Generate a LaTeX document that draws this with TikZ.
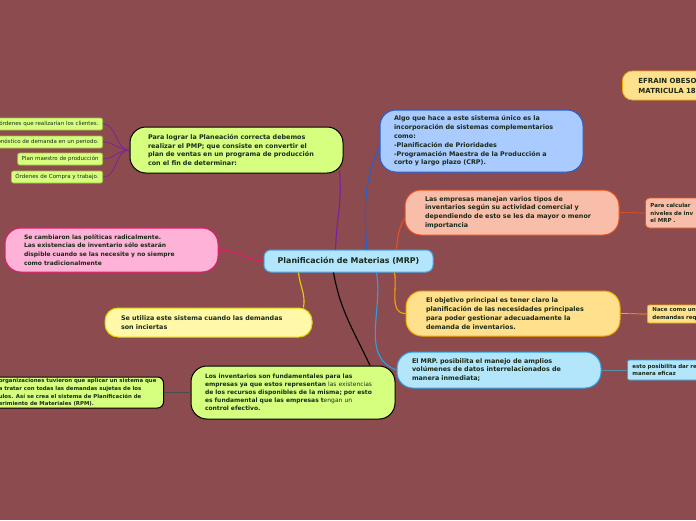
\documentclass[tikz,border=0pt]{standalone}
\usepackage{fontspec}
\setmainfont{DejaVu Sans}
\usetikzlibrary{positioning}
\definecolor{bg}{HTML}{8C4B4F}
\definecolor{ink}{HTML}{1A2A1A}
\definecolor{limefill}{HTML}{D6FF80}
\definecolor{limeline}{HTML}{9CC33A}
\definecolor{rootfill}{HTML}{B3E5FC}
\definecolor{rootline}{HTML}{4FA8E8}
\definecolor{bluefill}{HTML}{A9CBFF}
\definecolor{blueline}{HTML}{2160D6}
\definecolor{salmfill}{HTML}{F9BEA9}
\definecolor{salmline}{HTML}{E8501E}
\definecolor{pinkfill}{HTML}{FFB2D8}
\definecolor{pinkline}{HTML}{E8196A}
\definecolor{yelfill}{HTML}{FFF8A8}
\definecolor{yelline}{HTML}{E5D400}
\definecolor{orfill}{HTML}{FFE08C}
\definecolor{orline}{HTML}{F2A900}
\definecolor{cyfill}{HTML}{B3E6FB}
\definecolor{cyline}{HTML}{2AA0E6}
\definecolor{purp}{HTML}{7B1FA2}
\definecolor{grayblue}{HTML}{5B8FA8}

\begin{document}
\begin{tikzpicture}[x=1pt, y=1pt,
  root/.style={draw=rootline, fill=rootfill, line width=1pt, rounded corners=7pt, minimum width=169pt, minimum height=22pt, inner sep=0pt, text=ink, font=\bfseries\fontsize{7.9}{9}\selectfont},
  topic/.style={draw, line width=1pt, rounded corners=16pt, align=left, inner ysep=0pt, text=ink, font=\bfseries\fontsize{6.4}{8.8}\selectfont},
  leaf/.style={draw=limeline, fill=limefill, line width=0.8pt, rounded corners=2pt, align=left, inner xsep=4pt, inner ysep=0pt, minimum height=12pt, text=ink, font=\fontsize{5.5}{6.5}\selectfont},
  side/.style={draw, line width=0.8pt, rounded corners=4pt, align=left, inner xsep=5pt, inner ysep=0pt, text=ink, font=\bfseries\fontsize{5.5}{7.8}\selectfont},
  e/.style={line width=1.1pt},
  t/.style={line width=0.7pt}
]
\fill[bg] (0,0) rectangle (696,-520);
\useasboundingbox (0,0) rectangle (696,-520);

% centre
\node[root] (mrp) at (348.5,-261) {Planificación de Materias (MRP)};

% main topics
\node[topic, fill=limefill, draw=black, text width=177pt, inner xsep=18pt, minimum height=46pt] (pmp) at (236.5,-150) {Para lograr la Planeación correcta debemos\\realizar el PMP; que consiste en convertir el\\plan de ventas en un programa de producción\\con el fin de determinar:};
\node[topic, fill=bluefill, draw=blueline, text width=175pt, inner xsep=14pt, minimum height=62pt] (sist) at (481.5,-141) {Algo que hace a este sistema único es la\\incorporación de sistemas complementarios\\como:\\-Planificación de Prioridades\\-Programación Maestra de la Producción a\\corto y largo plazo (CRP).};
\node[topic, fill=salmfill, draw=salmline, text width=174pt, inner xsep=20pt, minimum height=45pt] (tipos) at (512,-212.5) {Las empresas manejan varios tipos de\\inventarios según su actividad comercial y\\dependiendo de esto se les da mayor o menor\\importancia};
\node[topic, fill=pinkfill, draw=pinkline, text width=175pt, inner xsep=19pt, minimum height=44pt, font=\bfseries\fontsize{6}{8.8}\selectfont] (polit) at (111.5,-250) {Se cambiaron las políticas radicalmente.\\Las existencias de inventario sólo estarán\\dispible cuando se las necesite y no siempre\\como tradicionalmente};
\node[topic, fill=yelfill, draw=yelline, text width=175pt, inner xsep=16pt, minimum height=29pt, rounded corners=13pt] (incier) at (208.5,-322.5) {Se utiliza este sistema cuando las demandas\\son inciertas};
\node[topic, fill=orfill, draw=orline, text width=174pt, inner xsep=20pt, minimum height=45pt] (objet) at (513,-313.5) {El objetivo principal es tener claro la\\planificación de las necesidades principales\\para poder gestionar adecuadamente la\\demanda de inventarios.};
\node[topic, fill=cyfill, draw=cyline, text width=174pt, inner xsep=15pt, minimum height=36pt] (posib) at (499,-370) {El MRP. posibilita el manejo de amplios\\volúmenes de datos interrelacionados de\\manera inmediata;};
\node[topic, fill=limefill, draw=black, text width=176pt, inner xsep=14pt, minimum height=53pt, font=\bfseries\fontsize{6}{8}\selectfont] (invent) at (293,-392.5) {Los inventarios son fundamentales para las\\empresas ya que estos representan {\mdseries las existencias}\\de los recursos disponibles de la misma; por esto\\es fundamental que las empresas t{\mdseries engan un}\\control efectivo.};
\node[topic, fill=limefill, draw=black, anchor=east, inner xsep=7pt, minimum height=31pt, rounded corners=6pt, font=\bfseries\fontsize{5.4}{7.7}\selectfont] (organiz) at (164,-392.5) {organizaciones tuvieron que aplicar un sistema que\\a tratar con todas las demandas sujetas de los\\ulos. Así se crea el sistema de Planificación de\\erimiento de Materiales (RPM).};

% leaves of the PMP
\node[leaf, anchor=east] (ordcli) at (103,-124) {órdenes que realizarían los clientes.};
\node[leaf, anchor=east] (pronos) at (103,-142) {Pronóstico de demanda en un periodo.};
\node[leaf, anchor=east] (planmae) at (103,-159) {Plan maestro de producción};
\node[leaf, anchor=east] (ordcomp) at (103,-177) {Órdenes de Compra y trabajo.};

% side notes on the right
\node[side, fill=orfill, draw=orline, anchor=west, text width=90pt, inner xsep=16pt, minimum height=29pt, rounded corners=10pt, font=\bfseries\fontsize{7}{10}\selectfont] (autor) at (622,-85.5) {EFRAIN OBESO\\MATRICULA 18};
\node[side, fill=salmfill, draw=salmline, anchor=west, text width=70pt, minimum height=30pt] (calc) at (645,-213) {Para calcular\\niveles de inv\\el MRP .};
\node[side, fill=orfill, draw=orline, anchor=west, text width=70pt, minimum height=18pt, rounded corners=2pt] (nace) at (647,-314) {Nace como una\\demandas requ};
\node[side, fill=cyfill, draw=cyline, anchor=west, text width=80pt, minimum height=20pt, rounded corners=2pt] (dar) at (627,-370) {esto posibilita dar re\\manera eficaz};

% connectors
\draw[e, purp] ([xshift=-13pt]mrp.north) to[out=88,in=-85] ([xshift=-4pt,yshift=3pt]pmp.south east);
\draw[e, blueline] ([xshift=18pt]mrp.north) to[out=92,in=245] ([yshift=-6pt]sist.west);
\draw[e, salmline] ([xshift=48pt]mrp.north) to[out=85,in=240] ([yshift=-6pt]tipos.west);
\draw[e, pinkline] (mrp.west) to[out=175,in=0] (polit.east);
\draw[e, yelline] ([xshift=-50pt]mrp.south) to[out=-85,in=80] ([xshift=-9pt]incier.north east);
\draw[e, orline] ([xshift=46pt]mrp.south) to[out=-80,in=180] (objet.west);
\draw[e, cyline] ([xshift=28pt]mrp.south) to[out=-80,in=160] (posib.west);
\draw[e, black] ([xshift=-15pt]mrp.south) to[out=-80,in=115] ([xshift=77pt]invent.north);
\draw[t, black!70] (invent.west) -- (organiz.east);
\draw[t, salmline] (tipos.east) -- (calc.west);
\draw[t, orline] (objet.east) to[out=0,in=180] (nace.west);
\draw[t, grayblue] (posib.east) -- (dar.west);
\foreach \lf in {ordcli, pronos, planmae, ordcomp}
  \draw[t, purp] (\lf.east) to[out=0,in=180] (pmp.west);
\end{tikzpicture}
\end{document}
